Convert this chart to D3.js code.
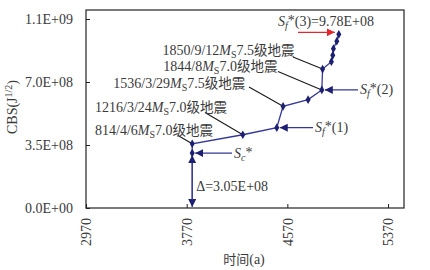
<!DOCTYPE html>
<html><head><meta charset="utf-8">
<script src="https://cdn.jsdelivr.net/npm/d3@7"></script>
<style>
html,body{margin:0;padding:0;background:#fff;}
svg{display:block;}
text{font-family:"Liberation Serif","Times New Roman",serif;}
.cjk{font-family:"Noto Sans CJK SC",sans-serif;}
</style></head>
<body><svg id="c" width="430" height="270"></svg>
<script>
// ---- data ----
const years = [3814, 3814, 4216, 4486, 4536, 4735, 4844, 4850, 4920, 4931, 4936, 4963, 4979];
const cbs = [3.05e8, 3.57e8, 4.07e8, 4.46e8, 5.65e8, 6.02e8, 6.56e8, 7.72e8, 8.13e8, 8.48e8, 8.85e8, 9.27e8, 9.65e8];
const xTicks = [2970, 3770, 4570, 5370];
const yTicks = [0, 3.5e8, 7.0e8, 1.05e9];
const eventDates = ["1850/9/12", "1844/8", "1536/3/29", "1216/3/24", "814/4/6"];
const eventMags = ["7.5", "7.0", "7.5", "7.0", "7.0"];
const eventPoint = [7, 6, 4, 2, 1];
const refNames = ["c", "f", "f", "f"];
const refSuffix = ["", "(1)", "(2)", "(3)=9.78E+08"];
const refPoint = [0, 3, 6, 12];
const deltaText = "Δ=3.05E+08";

// ---- layout ----
const svg = d3.select("#c");
const L = 86, R = 404, T = 10, B = 208;
const x = d3.scaleLinear().domain([2970, 5497]).range([L, R]);
const y = d3.scaleLinear().domain([0, 1.1e9]).range([B, T]);
const lineCol = "#34379a", dotCol = "#1d1f72", txtCol = "#3a3a3a";

function sci(v){
  if (v === 0) return "0.0E+00";
  let e = Math.floor(Math.log10(v));
  let m = v / Math.pow(10, e);
  let ms = m.toFixed(1);
  if (parseFloat(ms) >= 10) { e += 1; ms = (v/Math.pow(10,e)).toFixed(1); }
  return ms + "E+" + String(e).padStart(2, "0");
}

// axes
const xa = svg.append("g").attr("transform", `translate(0,${B})`)
  .call(d3.axisBottom(x).tickValues(xTicks).tickFormat(d3.format("d")).tickSizeInner(-4).tickSizeOuter(0));
xa.selectAll("text").attr("transform", "rotate(-90)").attr("x", -10).attr("y", 0).attr("dy", "0.35em")
  .style("text-anchor", "end").attr("font-size", 14).attr("fill", txtCol).attr("font-family", "Liberation Serif");
const ya = svg.append("g").attr("transform", `translate(${L},0)`)
  .call(d3.axisLeft(y).tickValues(yTicks).tickFormat(sci).tickSizeInner(-4).tickSizeOuter(0).tickPadding(13));
ya.selectAll("text").attr("font-size", 14).attr("fill", txtCol).attr("font-family", "Liberation Serif");
svg.selectAll(".domain").remove();
svg.selectAll(".tick line").attr("stroke", "#222");
svg.append("rect").attr("x", L).attr("y", T).attr("width", R - L).attr("height", B - T)
  .attr("fill", "none").attr("stroke", "#222").attr("stroke-width", 1.2);

// axis titles
const yt = svg.append("text").attr("transform", `translate(17,107) rotate(-90)`).attr("text-anchor", "middle")
  .attr("font-size", 14).attr("fill", txtCol);
yt.append("tspan").text("CBS(J");
yt.append("tspan").attr("dy", -5).attr("font-size", 10).text("1/2");
yt.append("tspan").attr("dy", 5).text(")");
const xt = svg.append("text").attr("x", 244).attr("y", 264).attr("text-anchor", "middle").attr("font-size", 14).attr("fill", txtCol);
xt.append("tspan").attr("class", "cjk").attr("font-size", 13).text("时间");
xt.append("tspan").text("(a)");

// markers
const defs = svg.append("defs");
function mk(id, col){
  defs.append("marker").attr("id", id).attr("viewBox", "0 0 10 10").attr("refX", 10).attr("refY", 5)
    .attr("markerWidth", 8).attr("markerHeight", 8).attr("markerUnits", "userSpaceOnUse").attr("orient", "auto")
    .append("path").attr("d", "M0,0L10,5L0,10Z").attr("fill", col);
}
mk("ab", dotCol); mk("ar", "#e4262c");

// delta double arrow
const dx = x(years[0]);
svg.append("line").attr("x1", dx).attr("x2", dx).attr("y1", y(cbs[0]) + 5).attr("y2", B - 1)
  .attr("stroke", lineCol).attr("stroke-width", 1.2).attr("marker-end", "url(#ab)");
svg.append("line").attr("x1", dx).attr("x2", dx).attr("y1", B - 8).attr("y2", y(cbs[0]) + 2)
  .attr("stroke", lineCol).attr("stroke-width", 1.2).attr("marker-end", "url(#ab)");
svg.append("text").attr("x", dx + 4).attr("y", 191).attr("font-size", 14).attr("fill", txtCol).text(deltaText);

// leader lines
const leadStart = [[293, 57], [278, 71.5], [249, 87], [205, 112.5], [178, 135.5]];
eventPoint.forEach((p, i) => {
  svg.append("line").attr("x1", leadStart[i][0]).attr("y1", leadStart[i][1])
    .attr("x2", x(years[p])).attr("y2", y(cbs[p])).attr("stroke", "#1a1a1a").attr("stroke-width", 1.1);
});

// event labels
const evPos = [[162.5, 54.5], [163.3, 71], [113.3, 87.5], [95, 111.5], [95, 134.5]];
eventDates.forEach((d, i) => {
  const t = svg.append("text").attr("x", evPos[i][0]).attr("y", evPos[i][1]).attr("font-size", 14).attr("fill", txtCol);
  t.append("tspan").text(d);
  t.append("tspan").attr("font-style", "italic").text("M");
  t.append("tspan").attr("dy", 3).attr("font-size", 10).text("S");
  t.append("tspan").attr("dy", -3).text(eventMags[i]);
  t.append("tspan").attr("class", "cjk").attr("font-size", 13.5).text("级地震");
});

// series line + dots
const pts = years.map((v, i) => [x(v), y(cbs[i])]);
svg.append("path").attr("d", d3.line()(pts)).attr("fill", "none").attr("stroke", lineCol).attr("stroke-width", 1.3);
svg.selectAll(".dot").data(pts).enter().append("path")
  .attr("transform", d => `translate(${d[0]},${d[1]})`)
  .attr("d", d3.symbol().type(d3.symbolDiamond).size(22)).attr("fill", dotCol);

// reference arrows
const refArrow = [[232, 2], [313, 2], [358, 2]];
refPoint.forEach((p, i) => {
  const px = x(years[p]), py = y(cbs[p]);
  let tx, ty, anchor = "start";
  if (i < 3) {
    svg.append("line").attr("x1", refArrow[i][0]).attr("x2", px + 3).attr("y1", py).attr("y2", py)
      .attr("stroke", lineCol).attr("stroke-width", 1.2).attr("marker-end", "url(#ab)");
    tx = refArrow[i][0] + 2; ty = py + 4.5;
  } else {
    svg.append("line").attr("x1", 298).attr("x2", px - 4).attr("y1", py - 2).attr("y2", py - 2)
      .attr("stroke", "#e4262c").attr("stroke-width", 1.3).attr("marker-end", "url(#ar)");
    tx = 278; ty = 26;
  }
  const t = svg.append("text").attr("x", tx).attr("y", ty).attr("font-size", 14).attr("fill", txtCol);
  t.append("tspan").attr("font-style", "italic").text("S");
  t.append("tspan").attr("dy", 3).attr("font-size", 10).attr("font-style", "italic").text(refNames[i]);
  t.append("tspan").attr("dy", -4).text("*");
  t.append("tspan").attr("dy", 1).text(refSuffix[i]);
});
</script></body></html>
